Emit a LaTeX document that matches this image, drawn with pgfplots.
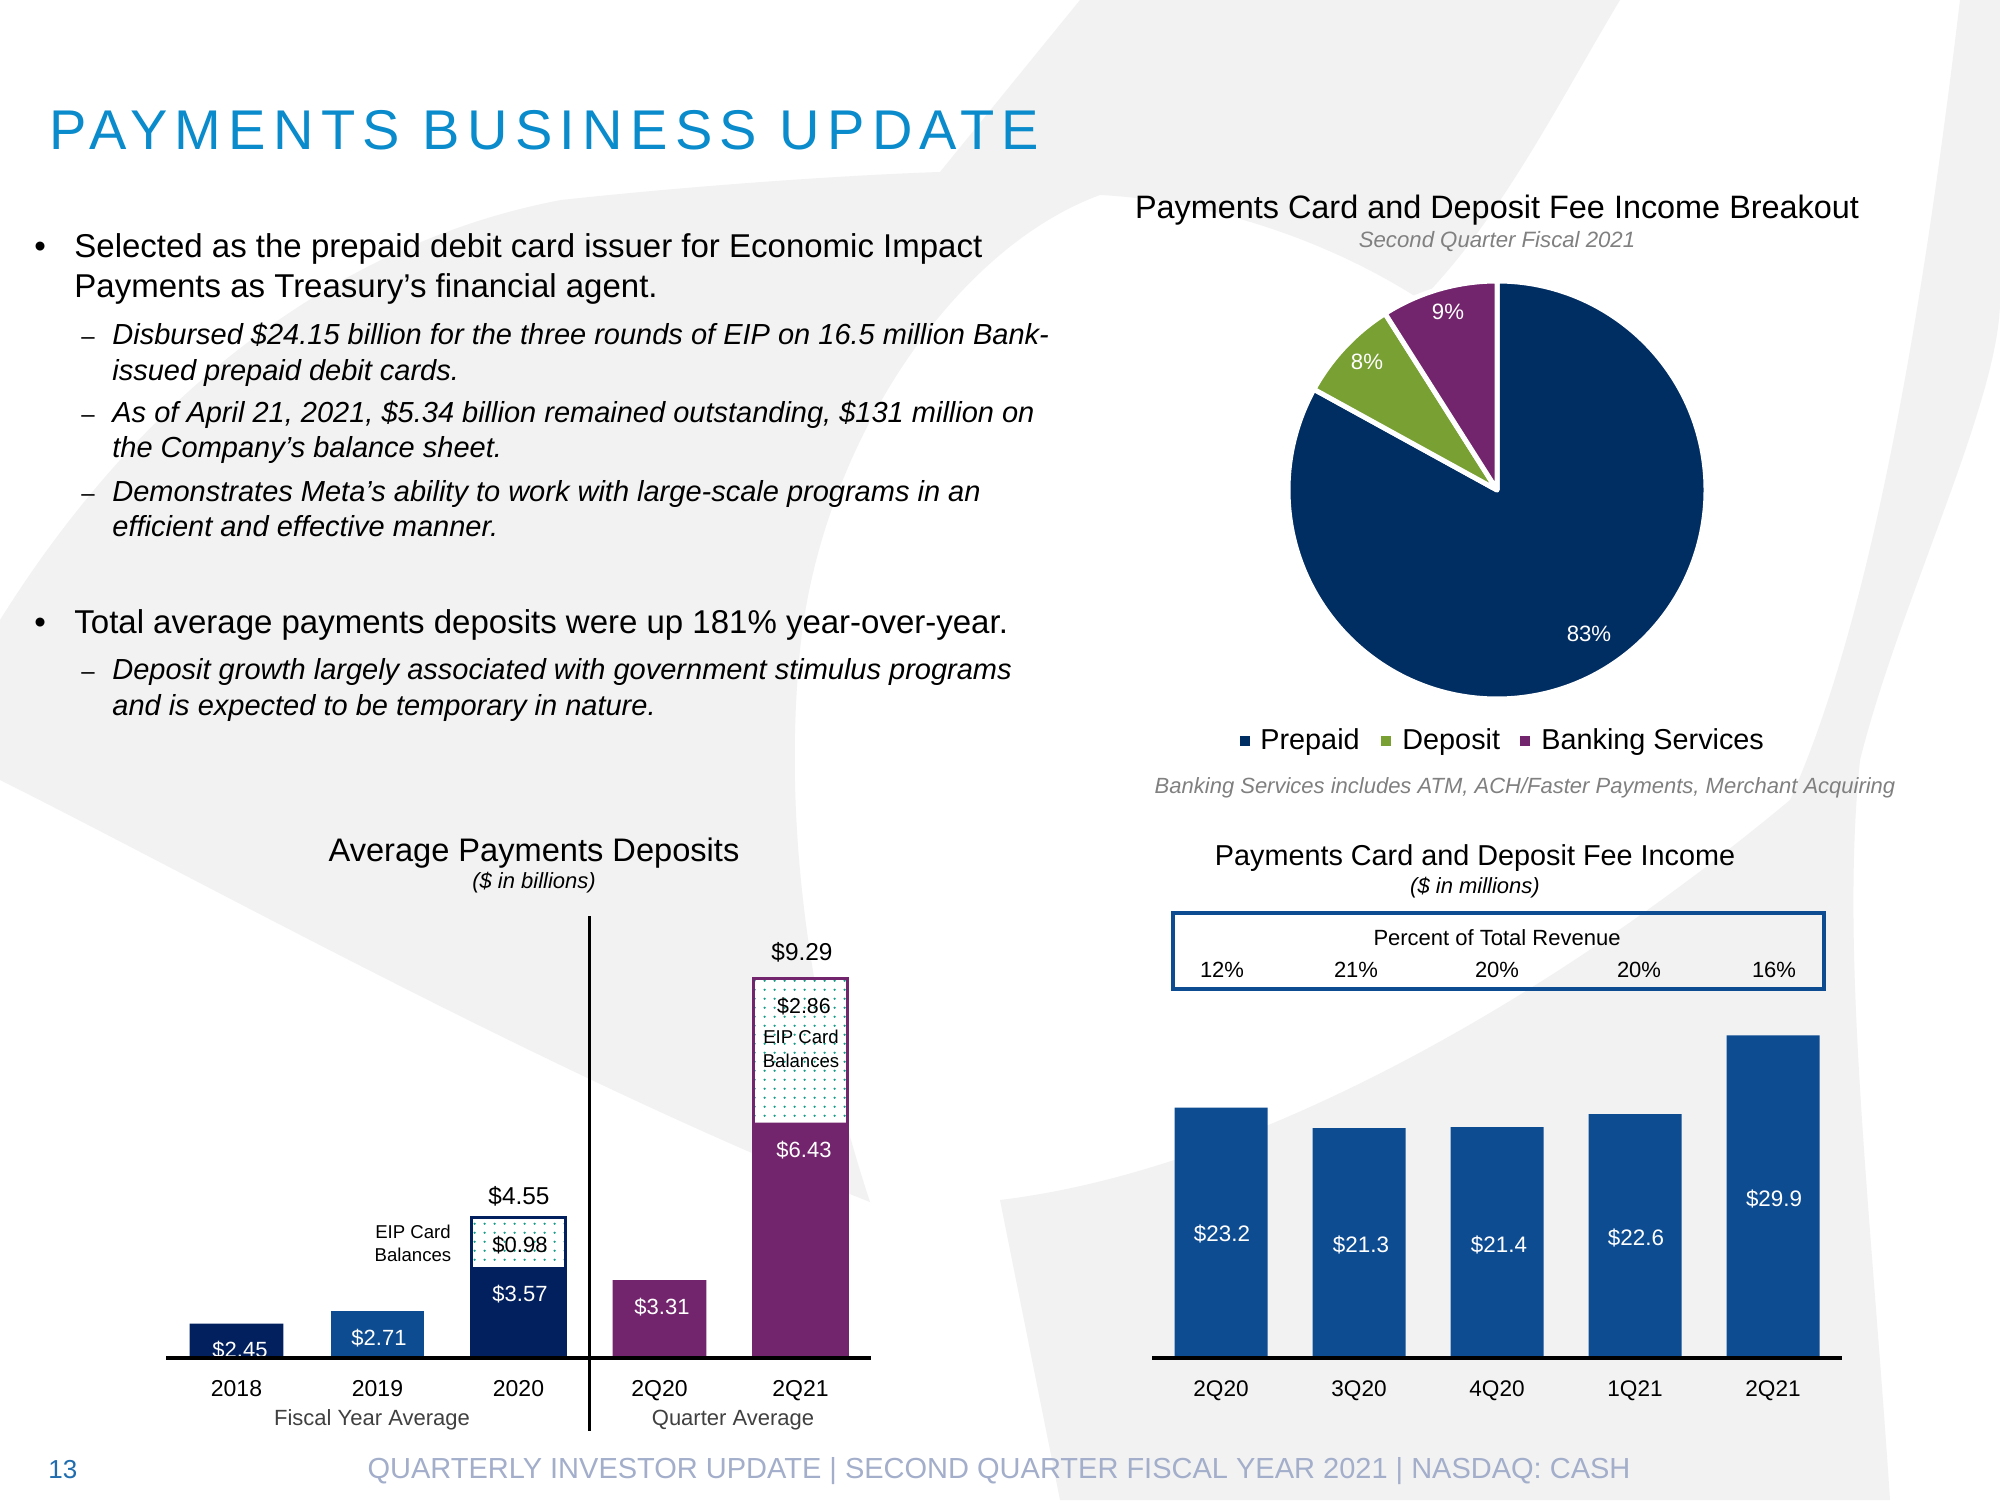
\documentclass[border=0pt]{standalone}
\usepackage{fontspec}
\setmainfont{Liberation Sans}
\newfontfamily\titlefont[LetterSpace=13]{Liberation Sans}
\usepackage{pgfplots}
\pgfplotsset{compat=1.18}
\usetikzlibrary{patterns}

\definecolor{navybar}{HTML}{03205E}
\definecolor{bluebar}{HTML}{0E4C92}
\definecolor{purplebar}{HTML}{72246C}
\definecolor{prepaid}{HTML}{002D62}
\definecolor{deposit}{HTML}{78A032}
\definecolor{banking}{HTML}{72246C}
\definecolor{eipdot}{HTML}{1A9E8A}
\definecolor{titleblue}{HTML}{0A8BCB}
\definecolor{footer}{HTML}{A3AECB}
\definecolor{pagenum}{HTML}{1F6DAE}
\definecolor{darkgray}{HTML}{404040}
\definecolor{subgray}{HTML}{808080}
\definecolor{bggray}{HTML}{F2F2F2}

\pgfdeclarepatternformonly{sparsedots}{\pgfqpoint{0pt}{0pt}}{\pgfqpoint{5pt}{4.6pt}}{\pgfqpoint{5pt}{4.6pt}}{%
  \pgfpathcircle{\pgfqpoint{2.5pt}{2.3pt}}{0.65pt}\pgfusepath{fill}}

\newcommand\fs[1]{\fontsize{#1}{#1}\selectfont}

\begin{document}
\begin{tikzpicture}
\begin{scope}[x=0.5pt,y=0.5pt]
\path[use as bounding box, fill=white] (0,0) rectangle (2000,1500);

% ---------------- decorative background swooshes (y = 1500 - y_image) ----------------
\fill[bggray] (1080,1500) -- (1620,1500)
  .. controls (1560,1400) and (1500,1280) .. (1421,1200)
  .. controls (1320,1265) and (1200,1300) .. (1100,1305)
  .. controls (950,1250) and (820,1050) .. (800,850)
  .. controls (780,650) and (820,450) .. (870,298)
  .. controls (560,420) and (200,620) .. (0,720)
  -- (0,880)
  .. controls (150,1120) and (350,1260) .. (561,1300)
  .. controls (700,1315) and (850,1325) .. (940,1328)
  -- cycle;
\fill[bggray] (1960,1500)
  .. controls (1930,1250) and (1880,900) .. (1790,700)
  .. controls (1550,500) and (1250,330) .. (1000,300)
  -- (1060,0) -- (1890,0)
  .. controls (1870,300) and (1840,550) .. (1860,740)
  .. controls (1900,900) and (2000,1100) .. (2000,1200)
  -- (2000,1500) -- cycle;

% ---------------- Title ----------------
\node[anchor=base west, inner sep=0pt, text=titleblue, font=\titlefont\fs{28pt}] at (49,1350) {PAYMENTS BUSINESS UPDATE};

% ---------------- Bullets ----------------
\begin{scope}[every node/.style={anchor=base west, inner sep=0pt}]
\node[font=\fs{16.5pt}] at (34,1242) {•};
\node[font=\fs{16.5pt}] at (74,1242) {Selected as the prepaid debit card issuer for Economic Impact};
\node[font=\fs{16.5pt}] at (74,1202) {Payments as Treasury’s financial agent.};
\node[font=\fs{12pt}] at (81,1155.5) {–};
\node[font=\fs{14.5pt}\itshape] at (112,1155.5) {Disbursed \$24.15 billion for the three rounds of EIP on 16.5 million Bank-};
\node[font=\fs{14.5pt}\itshape] at (112,1119.5) {issued prepaid debit cards.};
\node[font=\fs{12pt}] at (81,1077.5) {–};
\node[font=\fs{14.5pt}\itshape] at (112,1077.5) {As of April 21, 2021, \$5.34 billion remained outstanding, \$131 million on};
\node[font=\fs{14.5pt}\itshape] at (112,1042.5) {the Company’s balance sheet.};
\node[font=\fs{12pt}] at (81,998.5) {–};
\node[font=\fs{14.5pt}\itshape] at (112,998.5) {Demonstrates Meta’s ability to work with large-scale programs in an};
\node[font=\fs{14.5pt}\itshape] at (112,963.5) {efficient and effective manner.};
\node[font=\fs{16.5pt}] at (34,866) {•};
\node[font=\fs{16.5pt}] at (74,866) {Total average payments deposits were up 181\% year-over-year.};
\node[font=\fs{12pt}] at (81,820.5) {–};
\node[font=\fs{14.5pt}\itshape] at (112,820.5) {Deposit growth largely associated with government stimulus programs};
\node[font=\fs{14.5pt}\itshape] at (112,784.5) {and is expected to be temporary in nature.};
\end{scope}

% ---------------- Left chart titles ----------------
\node[anchor=base, inner sep=0pt, font=\fs{16.3pt}] at (534,639) {Average Payments Deposits};
\node[anchor=base, inner sep=0pt, font=\fs{11pt}\itshape] at (534,611) {(\$ in billions)};

% ---------------- Pie titles ----------------
\node[anchor=base, inner sep=0pt, font=\fs{16.2pt}] at (1497,1281) {Payments Card and Deposit Fee Income Breakout};
\node[anchor=base, inner sep=0pt, font=\fs{11.1pt}\itshape, text=subgray] at (1497,1252) {Second Quarter Fiscal 2021};

% ---------------- Right chart titles and box ----------------
\node[anchor=base, inner sep=0pt, font=\fs{14.4pt}] at (1475,634) {Payments Card and Deposit Fee Income};
\node[anchor=base, inner sep=0pt, font=\fs{11pt}\itshape] at (1475,606) {(\$ in millions)};
\draw[bluebar, line width=2pt] (1173,587) rectangle (1824,511);
\node[anchor=base, inner sep=0pt, font=\fs{11pt}] at (1497,555) {Percent of Total Revenue};
\begin{scope}[every node/.style={anchor=base, inner sep=0pt, font=\fs{11pt}}]
\node at (1222,523) {12\%};
\node at (1356,523) {21\%};
\node at (1497,523) {20\%};
\node at (1639,523) {20\%};
\node at (1774,523) {16\%};
\end{scope}

% legend of the pie
\fill[prepaid] (1240,754) rectangle (1250,764);
\node[anchor=base west, inner sep=0pt, font=\fs{14.4pt}] at (1260,750) {Prepaid};
\fill[deposit] (1381,754) rectangle (1391,764);
\node[anchor=base west, inner sep=0pt, font=\fs{14.4pt}] at (1402,750) {Deposit};
\fill[banking] (1520,754) rectangle (1530,764);
\node[anchor=base west, inner sep=0pt, font=\fs{14.4pt}] at (1541,750) {Banking Services};
\node[anchor=base, inner sep=0pt, font=\fs{11pt}\itshape, text=subgray] at (1525,706) {Banking Services includes ATM, ACH/Faster Payments, Merchant Acquiring};

% ---------------- Footer ----------------
\node[anchor=base west, inner sep=0pt, font=\fs{13pt}, text=pagenum] at (48,22) {13};
\node[anchor=base, inner sep=0pt, font=\fs{14.5pt}, text=footer] at (999,22) {QUARTERLY INVESTOR UPDATE | SECOND QUARTER FISCAL YEAR 2021 | NASDAQ: CASH};
\end{scope}

% ================= Left chart: Average Payments Deposits =================
\begin{axis}[
  at={(83pt,71pt)}, anchor=south west, scale only axis,
  width=352.5pt, height=207.8pt,
  xmin=-0.5, xmax=4.5, ymin=1.77, ymax=10,
  axis x line=bottom, axis y line=none,
  axis line style={draw=none},
  xtick={0,1,2,3,4}, xticklabels={2018,2019,2020,2Q20,2Q21},
  major tick length=0pt, ytick=\empty,
  xticklabel style={font=\fs{11.5pt}, anchor=base, yshift=-19pt, inner sep=0pt},
  clip mode=individual,
  ybar, bar width=0.665, bar shift=0pt,
]
% EIP card balance segments (totals drawn first, base bars on top)
\addplot[fill=white, draw=navybar, line width=1.5pt, postaction={pattern=sparsedots, pattern color=eipdot}] coordinates {(2,4.55)};
\addplot[fill=white, draw=purplebar, line width=1.5pt, postaction={pattern=sparsedots, pattern color=eipdot}] coordinates {(4,9.29)};
% base bars
\addplot[fill=navybar, draw=none] coordinates {(0,2.45) (2,3.57)};
\addplot[fill=bluebar, draw=none] coordinates {(1,2.71)};
\addplot[fill=purplebar, draw=none] coordinates {(3,3.31) (4,6.43)};
\end{axis}

% ================= Pie chart =================
\begin{axis}[
  at={(644pt,400.5pt)}, anchor=south west, scale only axis,
  width=209pt, height=209pt,
  xmin=-1, xmax=1, ymin=-1, ymax=1,
  hide axis, clip=false,
]
\addplot[draw=none, mark=none] coordinates {(0,0)};
\filldraw[fill=prepaid, draw=white, line width=2.5pt, line join=round]
  (axis cs:0,0) -- ++(90:104.5pt) arc[start angle=90, delta angle={-3.6*83}, radius=104.5pt] -- cycle;
\filldraw[fill=deposit, draw=white, line width=2.5pt, line join=round]
  (axis cs:0,0) -- ++({90-3.6*83}:104.5pt) arc[start angle={90-3.6*83}, delta angle={-3.6*8}, radius=104.5pt] -- cycle;
\filldraw[fill=banking, draw=white, line width=2.5pt, line join=round]
  (axis cs:0,0) -- ++({90-3.6*91}:104.5pt) arc[start angle={90-3.6*91}, delta angle={-3.6*9}, radius=104.5pt] -- cycle;
\end{axis}

% ================= Right chart: Fee Income =================
\begin{axis}[
  at={(576pt,71pt)}, anchor=south west, scale only axis,
  width=345pt, height=188.85pt,
  xmin=-0.5, xmax=4.5, ymin=0, ymax=35,
  axis x line=bottom, axis y line=none,
  axis line style={draw=none},
  xtick={0,1,2,3,4}, xticklabels={2Q20,3Q20,4Q20,1Q21,2Q21},
  major tick length=0pt, ytick=\empty,
  xticklabel style={font=\fs{11.3pt}, anchor=base, yshift=-19pt, inner sep=0pt},
  ybar, bar width=0.674, bar shift=0pt,
]
\addplot[fill=bluebar, draw=none] coordinates {(0,23.2) (1,21.3) (2,21.4) (3,22.6) (4,29.9)};
\end{axis}

% ================= Labels on top of the charts =================
\begin{scope}[x=0.5pt,y=0.5pt]
\begin{scope}[every node/.style={anchor=base, inner sep=0pt}]
\node[font=\fs{11pt}, text=white] at (240,143) {\$2.45};
\node[font=\fs{11pt}, text=white] at (379,155) {\$2.71};
\node[font=\fs{11pt}, text=white] at (520,199) {\$3.57};
\node[font=\fs{11pt}] at (520,248) {\$0.98};
\node[font=\fs{12.2pt}] at (519,296) {\$4.55};
\node[font=\fs{9.3pt}] at (413,262) {EIP Card};
\node[font=\fs{9.3pt}] at (413,239) {Balances};
\node[font=\fs{11pt}, text=white] at (662,186) {\$3.31};
\node[font=\fs{11pt}, text=white] at (804,343) {\$6.43};
\node[font=\fs{10.7pt}] at (804,487) {\$2.86};
\node[font=\fs{9.3pt}] at (801,457) {EIP Card};
\node[font=\fs{9.3pt}] at (801,433) {Balances};
\node[font=\fs{12.2pt}] at (802,540) {\$9.29};
\node[font=\fs{11pt}, text=darkgray] at (372,75) {Fiscal Year Average};
\node[font=\fs{11pt}, text=darkgray] at (733,75) {Quarter Average};
\end{scope}
\draw[line width=2pt] (166,142) -- (871,142);
\draw[line width=1.5pt] (589,584) -- (589,69);

\begin{scope}[every node/.style={anchor=base, inner sep=0pt, text=white, font=\fs{11.1pt}}]
\node at (1448,1180) {9\%};
\node at (1367,1130) {8\%};
\node at (1589,858) {83\%};
\end{scope}

\begin{scope}[every node/.style={anchor=base, inner sep=0pt, text=white, font=\fs{11.2pt}}]
\node at (1222,259) {\$23.2};
\node at (1361,248) {\$21.3};
\node at (1499,248) {\$21.4};
\node at (1636,255) {\$22.6};
\node at (1774,294) {\$29.9};
\end{scope}
\draw[line width=2pt] (1152,142) -- (1842,142);
\end{scope}
\end{tikzpicture}
\end{document}
